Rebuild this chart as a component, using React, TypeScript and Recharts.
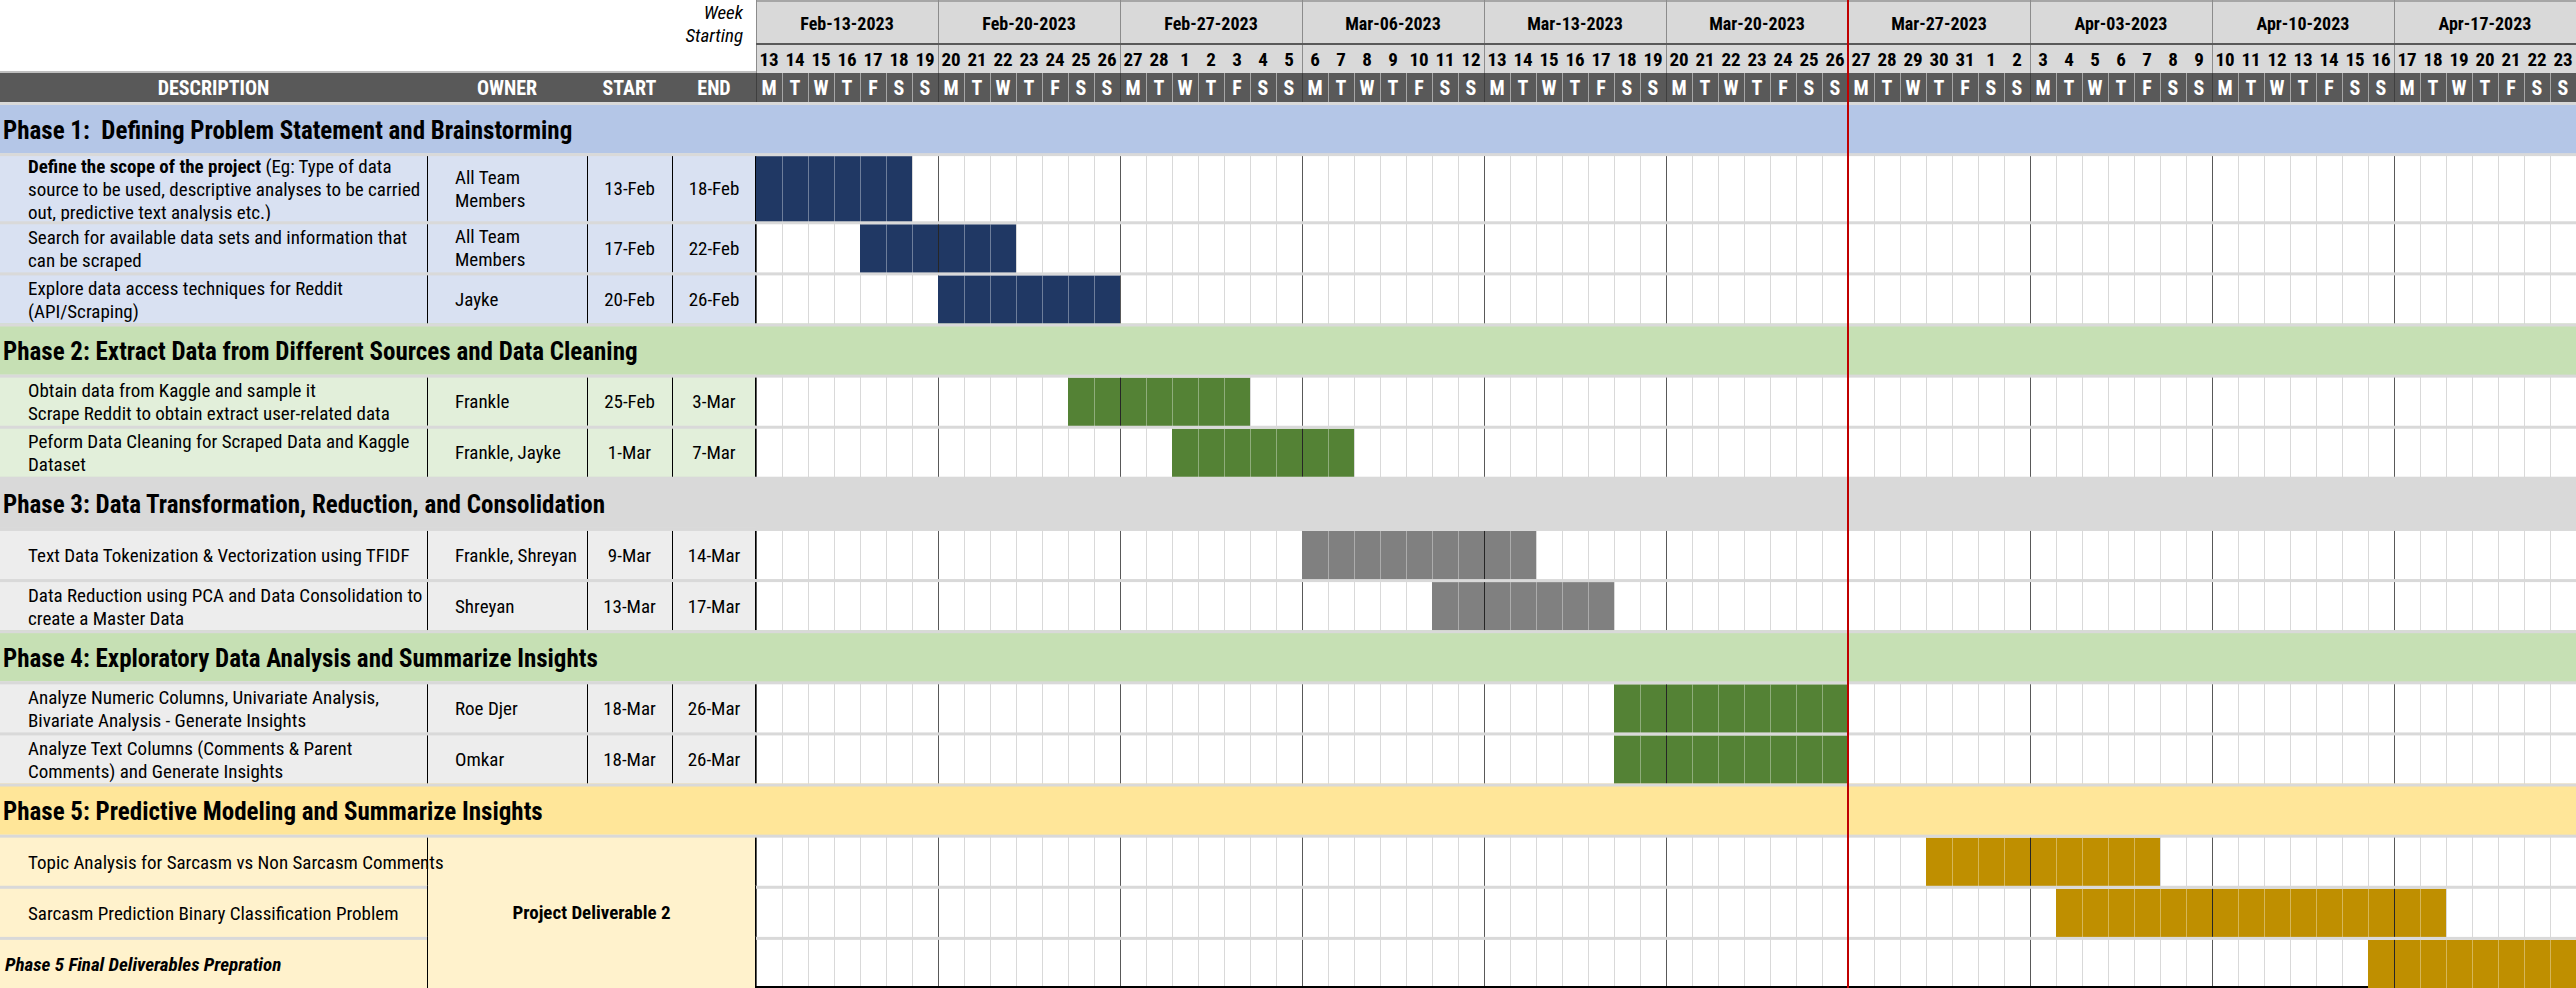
import React from "react";
import { BarChart, Bar, XAxis, YAxis, CartesianGrid, ReferenceLine, Customized } from "recharts";

// ---- calendar (header tick labels) ----
const weekLabels = [
  "Feb-13-2023", "Feb-20-2023", "Feb-27-2023", "Mar-06-2023", "Mar-13-2023",
  "Mar-20-2023", "Mar-27-2023", "Apr-03-2023", "Apr-10-2023", "Apr-17-2023",
];
const dayNumbers = [
  13, 14, 15, 16, 17, 18, 19, 20, 21, 22, 23, 24, 25, 26, 27, 28,
  1, 2, 3, 4, 5, 6, 7, 8, 9, 10, 11, 12, 13, 14, 15, 16, 17, 18, 19, 20, 21, 22, 23, 24, 25, 26, 27, 28, 29, 30, 31,
  1, 2, 3, 4, 5, 6, 7, 8, 9, 10, 11, 12, 13, 14, 15, 16, 17, 18, 19, 20, 21, 22, 23,
];
const dayLetters = ["M", "T", "W", "T", "F", "S", "S"];
const todayWeek = "Mar-27-2023";
const headerLabels = ["DESCRIPTION", "OWNER", "START", "END"];

// ---- phases ----
const phaseTitles = [
  "Phase 1:  Defining Problem Statement and Brainstorming",
  "Phase 2: Extract Data from Different Sources and Data Cleaning",
  "Phase 3: Data Transformation, Reduction, and Consolidation",
  "Phase 4: Exploratory Data Analysis and Summarize Insights",
  "Phase 5: Predictive Modeling and Summarize Insights",
];
const phaseHeaderFill = ["#b4c6e7", "#c6e0b4", "#d9d9d9", "#c6e0b4", "#ffe699"];
const phaseCellFill = ["#d9e1f2", "#e2efda", "#ededed", "#ededed", "#fff2cc"];
const phaseBarFill = ["#203864", "#548235", "#808080", "#548235", "#bf8f00"];

// ---- tasks ----
const taskPhase = [0, 0, 0, 1, 1, 2, 2, 3, 3, 4, 4, 4];
const taskLines = [
  ["**Define the scope of the project** (Eg: Type of data", "source to be used, descriptive analyses to be carried", "out, predictive text analysis etc.)"],
  ["Search for available data sets and information that", "can be scraped"],
  ["Explore data access techniques for Reddit", "(API/Scraping)"],
  ["Obtain data from Kaggle and sample it", "Scrape Reddit to obtain extract user-related data"],
  ["Peform Data Cleaning for Scraped Data and Kaggle", "Dataset"],
  ["Text Data Tokenization & Vectorization using TFIDF"],
  ["Data Reduction using PCA and Data Consolidation to", "create a Master Data"],
  ["Analyze Numeric Columns, Univariate Analysis,", "Bivariate Analysis - Generate Insights"],
  ["Analyze Text Columns (Comments & Parent", "Comments) and Generate Insights"],
  ["Topic Analysis for Sarcasm vs Non Sarcasm Comments"],
  ["Sarcasm Prediction Binary Classification Problem"],
  ["Phase 5 Final Deliverables Prepration"],
];
const taskOwners = [
  ["All Team", "Members"], ["All Team", "Members"], ["Jayke"], ["Frankle"], ["Frankle, Jayke"],
  ["Frankle, Shreyan"], ["Shreyan"], ["Roe Djer"], ["Omkar"], [], [], [],
];
const taskStart = ["13-Feb", "17-Feb", "20-Feb", "25-Feb", "1-Mar", "9-Mar", "13-Mar", "18-Mar", "18-Mar", "", "", ""];
const taskEnd = ["18-Feb", "22-Feb", "26-Feb", "3-Mar", "7-Mar", "14-Mar", "17-Mar", "26-Mar", "26-Mar", "", "", ""];
// bar start (days after Feb 13) and length in days, as drawn
const barStartDay = [0, 4, 7, 12, 16, 21, 26, 33, 33, 45, 50, 62];
const barLength = [6, 6, 7, 7, 7, 9, 7, 9, 9, 9, 15, 8];
const deliverableTasks = [9, 10, 11];
const deliverableLabel = "Project Deliverable 2";
const emphasisTasks = [11];

// ---- layout ----
const W = 2576;
const H = 988;
const TABLE_W = 756;
const WEEK_H = 44;
const DATE_H = 29;
const LETTER_H = 29;
const HEAD_H = WEEK_H + DATE_H + LETTER_H;
const DAYS = dayNumbers.length;
const DAY_W = (W - TABLE_W) / DAYS;
const COL_OWNER = 427;
const COL_START = 587;
const COL_END = 672;
const SEP = 3;
const SEP_FILL = "#d9d9d9";
const LINE_H = 23;
const FONT = '"Roboto Condensed", "Liberation Sans Narrow", Roboto, sans-serif';
const TEXT_SIZE = 19;

type Row = { id: string; kind: "phase" | "task"; phase: number; task: number; offset: number; dur: number };
const rows: Row[] = [];
phaseTitles.forEach((_, p) => {
  rows.push({ id: `p${p}`, kind: "phase", phase: p, task: -1, offset: 0, dur: 0 });
  taskPhase.forEach((tp, t) => {
    if (tp === p) rows.push({ id: `t${t}`, kind: "task", phase: p, task: t, offset: barStartDay[t], dur: barLength[t] });
  });
});
// rows grow with their text, like autofit rows in a sheet
const spanOf = (row: Row) => (row.kind === "task" && taskLines[row.task].length > 2 ? 4 : 3);
const slots = rows.flatMap((row, r) =>
  Array.from({ length: spanOf(row) }, (_, k) => ({
    slot: `${row.id}-${k}`,
    r,
    first: k === 0,
    span: spanOf(row),
    offset: k === 0 ? row.offset : 0,
    dur: k === 0 ? row.dur : 0,
  }))
);
const UNIT_H = (H - HEAD_H) / slots.length;

const weekTicks = weekLabels.map((_, i) => i * 7 + 3.5);
const dayTicks = dayNumbers.map((_, i) => i + 0.5);
const todayIndex = weekLabels.indexOf(todayWeek) * 7;
const dayEdges = dayNumbers.map((_, d) => d).filter((d) => d % 7 !== 0);
const weekEdges = weekLabels.map((_, i) => i * 7);

// grid lines placed through the x axis scale
const edgePixels = (values: number[]) => (args: any) => {
  const sc = args && args.xAxis && args.xAxis.scale;
  return values.map((v) => (typeof sc === "function" ? sc(v) : TABLE_W + v * DAY_W) + 0.5);
};

function WeekTick(props: any) {
  const { x, index } = props;
  const left = x - 3.5 * DAY_W;
  return (
    <g>
      <rect x={left} y={0} width={7 * DAY_W} height={WEEK_H} fill="#d9d9d9" />
      <line x1={left} x2={left + 7 * DAY_W} y1={1} y2={1} stroke="#a6a6a6" strokeWidth={2} />
      <line x1={left + 0.5} x2={left + 0.5} y1={0} y2={WEEK_H + DATE_H} stroke="#8c8c8c" />
      <line x1={left} x2={left + 7 * DAY_W} y1={WEEK_H} y2={WEEK_H} stroke="#595959" strokeWidth={2} />
      <text x={x} y={WEEK_H / 2 + 1} textAnchor="middle" dominantBaseline="central" fontFamily={FONT} fontSize={18} fontWeight={700} fill="#000">
        {weekLabels[index]}
      </text>
    </g>
  );
}

function DateTick(props: any) {
  const { x, index } = props;
  return (
    <g>
      <rect x={x - DAY_W / 2} y={WEEK_H + 1} width={DAY_W} height={DATE_H - 1} fill="#d9d9d9" />
      {index % 7 === 0 && <line x1={x - DAY_W / 2 + 0.5} x2={x - DAY_W / 2 + 0.5} y1={WEEK_H} y2={WEEK_H + DATE_H} stroke="#8c8c8c" />}
      <text x={x} y={WEEK_H + DATE_H / 2 + 1} textAnchor="middle" dominantBaseline="central" fontFamily={FONT} fontSize={19} fontWeight={700} fill="#000">
        {dayNumbers[index]}
      </text>
    </g>
  );
}

function LetterTick(props: any) {
  const { x, index } = props;
  const top = WEEK_H + DATE_H;
  return (
    <g>
      <rect x={x - DAY_W / 2} y={top} width={DAY_W} height={LETTER_H} fill="#595959" />
      <line x1={x - DAY_W / 2 + 0.5} x2={x - DAY_W / 2 + 0.5} y1={top} y2={top + LETTER_H} stroke={index % 7 === 0 ? "#3f3f3f" : "#a6a6a6"} />
      <text x={x} y={top + LETTER_H / 2} textAnchor="middle" dominantBaseline="central" fontFamily={FONT} fontSize={20} fontWeight={700} fill="#ffffff">
        {dayLetters[index % 7]}
      </text>
    </g>
  );
}

function DescLine({ text, x, y, emph }: { text: string; x: number; y: number; emph: boolean }) {
  const parts = text.split("**");
  return (
    <text x={x} y={y} dominantBaseline="central" fontFamily={FONT} fontSize={TEXT_SIZE} fill="#000"
      fontWeight={emph ? 700 : 400} fontStyle={emph ? "italic" : "normal"} style={{ whiteSpace: "pre" }}>
      {parts.map((p, i) => (
        <tspan key={i} fontWeight={emph || i % 2 === 1 ? 700 : 400}>{p}</tspan>
      ))}
    </text>
  );
}

function TableRow(props: any) {
  const { y, index } = props;
  const s = slots[index];
  if (!s || !s.first) return <g />;
  const row = rows[s.r];
  const top = y - UNIT_H / 2;
  const h = s.span * UNIT_H;
  const cy = top + SEP + (h - SEP) / 2;
  if (row.kind === "phase") {
    return (
      <g>
        <rect x={0} y={top} width={W} height={h + 1} fill={phaseHeaderFill[row.phase]} />
        <rect x={0} y={top} width={W} height={SEP} fill={SEP_FILL} />
        <text x={3} y={cy + 1} dominantBaseline="central" fontFamily={FONT} fontSize={25} fontWeight={700} fill="#000" style={{ whiteSpace: "pre" }}>
          {phaseTitles[row.phase]}
        </text>
      </g>
    );
  }
  const t = row.task;
  const merged = deliverableTasks.includes(t);
  const firstMerged = merged && deliverableTasks[0] === t;
  const midMerged = merged && deliverableTasks[Math.floor(deliverableTasks.length / 2)] === t;
  const emph = emphasisTasks.includes(t);
  const lines = taskLines[t];
  const owners = taskOwners[t];
  const lineY = (i: number, n: number) => cy + (i - (n - 1) / 2) * LINE_H;
  const vline = (x: number) => (
    <line key={x} x1={x + 0.5} x2={x + 0.5} y1={top + (merged && !firstMerged ? 0 : SEP)} y2={top + h + 1} stroke="#000" />
  );
  return (
    <g>
      <rect x={0} y={top} width={TABLE_W} height={h + 1} fill={phaseCellFill[row.phase]} />
      {merged && !firstMerged ? (
        <g>
          <rect x={0} y={top} width={COL_OWNER} height={SEP} fill={SEP_FILL} />
          <rect x={TABLE_W} y={top} width={W - TABLE_W} height={SEP} fill={SEP_FILL} />
        </g>
      ) : (
        <rect x={0} y={top} width={W} height={SEP} fill={SEP_FILL} />
      )}
      {lines.map((ln, i) => (
        <DescLine key={i} text={ln} x={emph ? 5 : 28} y={lineY(i, lines.length)} emph={emph} />
      ))}
      {owners.map((o, i) => (
        <text key={i} x={455} y={lineY(i, owners.length)} dominantBaseline="central" fontFamily={FONT} fontSize={TEXT_SIZE} fill="#000">{o}</text>
      ))}
      {!merged && (
        <g fontFamily={FONT} fontSize={TEXT_SIZE} fill="#000" textAnchor="middle">
          <text x={(COL_START + COL_END) / 2} y={cy} dominantBaseline="central">{taskStart[t]}</text>
          <text x={(COL_END + TABLE_W) / 2} y={cy} dominantBaseline="central">{taskEnd[t]}</text>
        </g>
      )}
      {midMerged && (
        <text x={(COL_OWNER + TABLE_W) / 2} y={cy} textAnchor="middle" dominantBaseline="central" fontFamily={FONT} fontSize={TEXT_SIZE} fontWeight={700} fill="#000">
          {deliverableLabel}
        </text>
      )}
      {vline(COL_OWNER)}
      {!merged && vline(COL_START)}
      {!merged && vline(COL_END)}
      {vline(TABLE_W - 1)}
    </g>
  );
}

function TaskBar(props: any) {
  const { x, y, width, height, payload } = props;
  const s = payload && payload.slot ? payload : slots[props.index];
  if (!s || !s.first || s.dur <= 0 || !(width > 0)) return <g />;
  const row = rows[s.r];
  const top = y + SEP;
  const h = s.span * height - SEP + 1;
  const cw = width / s.dur;
  const cells = Array.from({ length: s.dur }, (_, i) => i);
  return (
    <g>
      <rect x={x} y={top} width={width} height={h} fill={phaseBarFill[row.phase]} />
      {cells.slice(1).map((i) => (
        <line key={i} x1={x + i * cw + 0.5} x2={x + i * cw + 0.5} y1={top} y2={top + h}
          stroke={(s.offset + i) % 7 === 0 ? "#262626" : "rgba(255,255,255,0.35)"} />
      ))}
    </g>
  );
}

function TodayLine(props: any) {
  const { x1, y2 } = props;
  return <line x1={x1} x2={x1} y1={0} y2={y2} stroke="#c00000" strokeWidth={2} />;
}

function HeaderCorner() {
  const centers = [COL_OWNER / 2, (COL_OWNER + COL_START) / 2, (COL_START + COL_END) / 2, (COL_END + TABLE_W) / 2];
  const top = WEEK_H + DATE_H;
  return (
    <g fontFamily={FONT}>
      <rect x={0} y={0} width={TABLE_W} height={top} fill="#ffffff" />
      <text x={743} y={12} textAnchor="end" dominantBaseline="central" fontSize={19} fontStyle="italic" fill="#000">Week</text>
      <text x={743} y={35} textAnchor="end" dominantBaseline="central" fontSize={19} fontStyle="italic" fill="#000">Starting</text>
      <rect x={0} y={top - 2} width={TABLE_W} height={2} fill="#bfbfbf" />
      <rect x={0} y={top} width={TABLE_W} height={LETTER_H} fill="#595959" />
      {headerLabels.map((lb, i) => (
        <text key={lb} x={centers[i]} y={top + LETTER_H / 2} textAnchor="middle" dominantBaseline="central" fontSize={20} fontWeight={700} fill="#ffffff">
          {lb}
        </text>
      ))}
      <rect x={0} y={H - 2} width={W} height={2} fill="#000000" />
    </g>
  );
}

export default function App() {
  return (
    <div style={{ position: "absolute", left: 0, top: 0, width: W, height: H, background: "#ffffff" }}>
      <BarChart width={W} height={H} data={slots} layout="vertical" margin={{ top: 0, right: 0, bottom: 0, left: 0 }} barCategoryGap={0} barGap={0}>
        <CartesianGrid xAxisId="day" yAxisId="rows" horizontal={false} stroke="#d9d9d9"
          verticalCoordinatesGenerator={edgePixels(dayEdges)} />
        <CartesianGrid xAxisId="day" yAxisId="rows" horizontal={false} stroke="#595959"
          verticalCoordinatesGenerator={edgePixels(weekEdges)} />
        <XAxis xAxisId="day" type="number" orientation="top" domain={[0, DAYS]} ticks={dayTicks} interval={0}
          height={LETTER_H} tick={LetterTick} axisLine={false} tickLine={false} allowDataOverflow />
        <XAxis xAxisId="date" type="number" orientation="top" domain={[0, DAYS]} ticks={dayTicks} interval={0}
          height={DATE_H} tick={DateTick} axisLine={false} tickLine={false} allowDataOverflow />
        <XAxis xAxisId="week" type="number" orientation="top" domain={[0, DAYS]} ticks={weekTicks} interval={0}
          height={WEEK_H} tick={WeekTick} axisLine={false} tickLine={false} allowDataOverflow />
        <YAxis yAxisId="rows" type="category" dataKey="slot" width={TABLE_W} interval={0}
          tick={TableRow} axisLine={false} tickLine={false} />
        <Bar xAxisId="day" yAxisId="rows" dataKey="offset" stackId="g" fill="transparent" isAnimationActive={false} />
        <Bar xAxisId="day" yAxisId="rows" dataKey="dur" stackId="g" shape={TaskBar} isAnimationActive={false} />
        <Customized component={<HeaderCorner />} />
        <ReferenceLine xAxisId="day" yAxisId="rows" x={todayIndex} shape={TodayLine} zIndex={3000} />
      </BarChart>
    </div>
  );
}
